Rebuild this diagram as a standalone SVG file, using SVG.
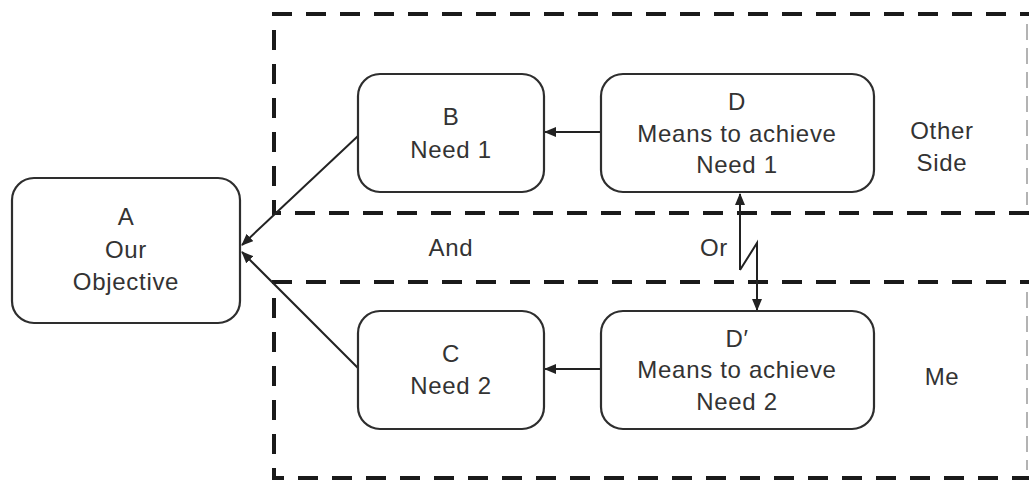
<svg xmlns="http://www.w3.org/2000/svg" width="1029" height="482" viewBox="0 0 1029 482">
  <style>
    .node { fill: #ffffff; stroke: #2e2e2e; stroke-width: 2.2; }
    .zone { fill: none; stroke: #1a1a1a; stroke-width: 4; stroke-dasharray: 20 14; }
    .edge { fill: none; stroke: #222222; stroke-width: 2; }
    text { font-family: "Liberation Sans", Arial, sans-serif; font-size: 24px; letter-spacing: 0.7px; fill: #333333; text-anchor: middle; }
  </style>
  <defs>
    <marker id="arrow" viewBox="0 0 12 10" refX="11" refY="5" markerWidth="12" markerHeight="10" markerUnits="userSpaceOnUse" orient="auto">
      <path d="M0,0 L12,5 L0,10 Z" fill="#222222"/>
    </marker>
  </defs>
  <rect width="1029" height="482" fill="#ffffff"/>

  <!-- zones -->
  <g id="zones">
    <path class="zone" d="M1040,14 L274,14 L274,213 L1040,213"/>
    <path class="zone" d="M1040,282 L274,282 L274,478 L1040,478"/>
    <line x1="1027" y1="24" x2="1027" y2="205" stroke="#9a9a9a" stroke-width="1.5" stroke-dasharray="16 8"/>
    <line x1="1027" y1="292" x2="1027" y2="470" stroke="#9a9a9a" stroke-width="1.5" stroke-dasharray="16 8"/>
  </g>

  <!-- connectors -->
  <g id="connectors">
    <line class="edge" x1="601" y1="132" x2="545" y2="132" marker-end="url(#arrow)"/>
    <line class="edge" x1="601" y1="369" x2="545" y2="369" marker-end="url(#arrow)"/>
    <line class="edge" x1="358" y1="136" x2="242" y2="245" marker-end="url(#arrow)"/>
    <line class="edge" x1="358" y1="368" x2="242" y2="252" marker-end="url(#arrow)"/>
    <path class="edge" d="M740,270 L740,194" marker-end="url(#arrow)"/>
    <path class="edge" d="M740,270 L757,243 L757,310" marker-end="url(#arrow)"/>
  </g>

  <!-- nodes -->
  <g id="node-a">
    <rect class="node" x="12" y="178" width="228" height="145" rx="22"/>
    <text x="126" y="225">A</text>
    <text x="126" y="258">Our</text>
    <text x="126" y="290">Objective</text>
  </g>
  <g id="node-b">
    <rect class="node" x="358" y="74" width="186" height="118" rx="22"/>
    <text x="451" y="125">B</text>
    <text x="451" y="158">Need 1</text>
  </g>
  <g id="node-d">
    <rect class="node" x="601" y="74" width="273" height="118" rx="22"/>
    <text x="737" y="110">D</text>
    <text x="737" y="142">Means to achieve</text>
    <text x="737" y="173">Need 1</text>
  </g>
  <g id="node-c">
    <rect class="node" x="358" y="311" width="186" height="118" rx="22"/>
    <text x="451" y="362">C</text>
    <text x="451" y="394">Need 2</text>
  </g>
  <g id="node-d-prime">
    <rect class="node" x="601" y="311" width="273" height="118" rx="22"/>
    <text x="737" y="347">D′</text>
    <text x="737" y="378">Means to achieve</text>
    <text x="737" y="410">Need 2</text>
  </g>

  <!-- labels -->
  <g id="labels">
    <text x="942" y="139">Other</text>
    <text x="942" y="171">Side</text>
    <text x="942" y="385">Me</text>
    <text x="451" y="256">And</text>
    <text x="714" y="256">Or</text>
  </g>
</svg>
